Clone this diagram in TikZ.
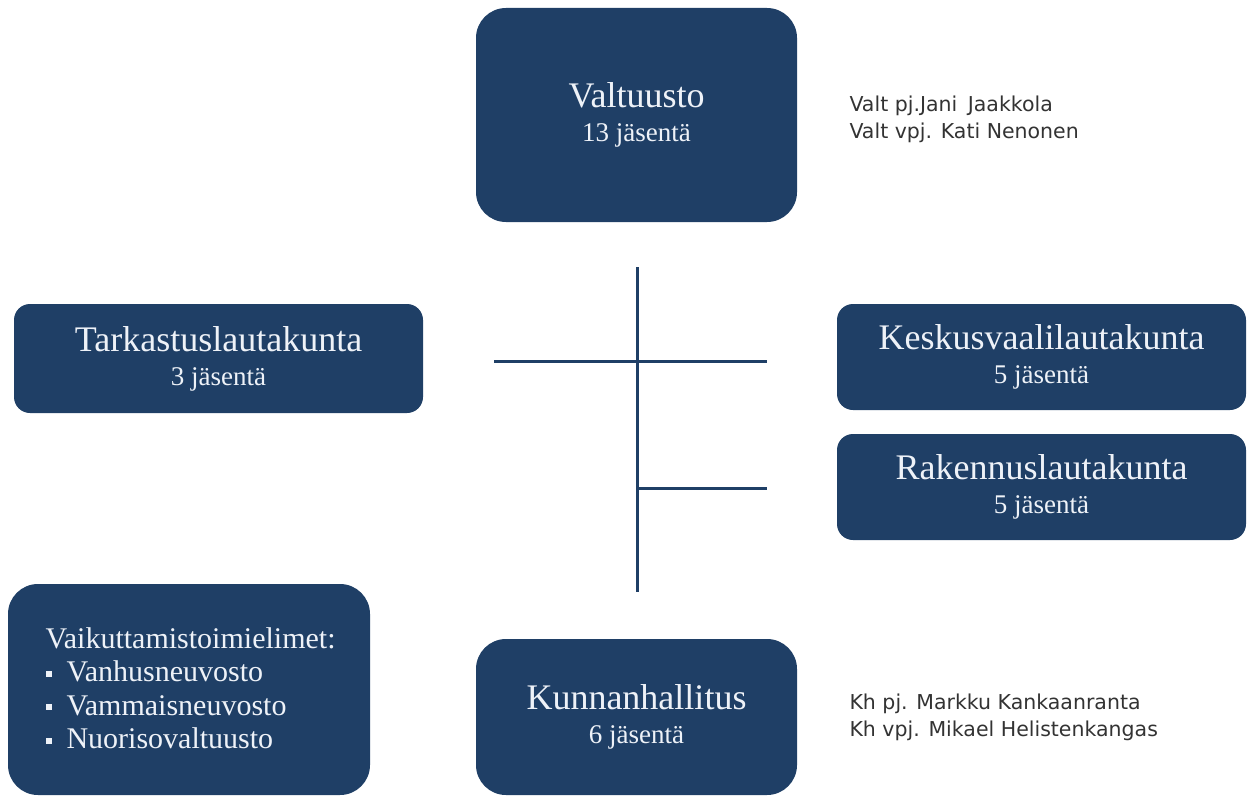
\documentclass[tikz,border=0pt]{standalone}
\usepackage{fontspec}
\setmainfont{Liberation Serif}
\newfontfamily\sidefont{DejaVu Sans}
\definecolor{navy}{HTML}{1F3F66}
\definecolor{paleblue}{HTML}{EEF2F8}
\definecolor{sidegray}{HTML}{333333}
\tikzset{
  organ/.style={fill=navy, text=paleblue, rounded corners=#1, align=center, inner sep=0pt,
    font=\fontsize{36}{34}\selectfont},
  organ/.default=16pt,
  link/.style={draw=navy, line width=3pt},
  namelist/.style={text=sidegray, anchor=west, align=left, font=\sidefont\fontsize{20.5}{27}\selectfont}
}
\newcommand{\organname}[2]{#1\\{\fontsize{27}{34}\selectfont #2}}
\newcommand{\sqbullet}{\raisebox{5pt}{\rule{6pt}{6pt}}\hspace{15pt}}
\begin{document}
\begin{tikzpicture}[x=1pt,y=-1pt]
        \useasboundingbox (0,0) rectangle (1249,797);
        % toimielimet
        \node[organ=30pt, minimum width=321pt, minimum height=214pt] (valtuusto) at (636.5,115) {\organname{Valtuusto}{13 jäsentä}};
        \node[organ, minimum width=409pt, minimum height=109pt] (tarkastus) at (218.5,358.5) {\organname{Tarkastuslautakunta}{3 jäsentä}};
        \node[organ, minimum width=409pt, minimum height=106pt] (keskus) at (1041.5,357) {\organname{Keskusvaalilautakunta}{5 jäsentä}};
        \node[organ, minimum width=409pt, minimum height=106pt] (rakennus) at (1041.5,487) {\organname{Rakennuslautakunta}{5 jäsentä}};
        \node[organ=30pt, minimum width=321pt, minimum height=156pt] (hallitus) at (636.5,717) {\organname{Kunnanhallitus}{6 jäsentä}};
        \node[organ=30pt, minimum width=362pt, minimum height=211pt] (vaikuttamis) at (189,689.5) {};
        \node[text=paleblue, anchor=north west, align=left, font=\fontsize{30}{33.5}\selectfont] (lista) at (42,624)
          {Vaikuttamistoimielimet:\\ \sqbullet Vanhusneuvosto\\ \sqbullet Vammaisneuvosto\\ \sqbullet Nuorisovaltuusto};
        % puheenjohtajat
        \node[namelist] (valtpj) at (846,119) {Valt pj.Jani\hspace{4pt} Jaakkola\\Valt vpj. Kati Nenonen};
        \node[namelist] (khpj) at (846,717) {Kh pj. Markku Kankaanranta\\Kh vpj. Mikael Helistenkangas};
        % yhteydet
        \coordinate (top) at (637,267);
        \coordinate (bottom) at (637,592);
        \coordinate (leftend) at (494,361);
        \coordinate (cross) at (637,361);
        \coordinate (rightend) at (767,361);
        \coordinate (branch) at (637,488);
        \coordinate (branchend) at (767,488);
        \draw[link] (top) -- (bottom);
        \draw[link] (leftend) -- (cross) -- (rightend);
        \draw[link] (branch) -- (branchend);
\end{tikzpicture}
\end{document}
